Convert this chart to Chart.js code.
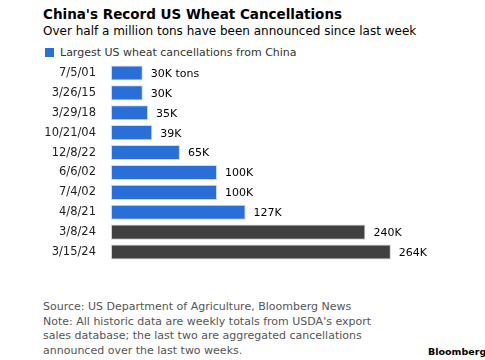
<!DOCTYPE html>
<html>
<head>
<meta charset="utf-8">
<script src="https://cdn.jsdelivr.net/npm/chart.js@4"></script>
<style>
  body { margin: 0; background: #fff; width: 485px; height: 360px; overflow: hidden; font-family: 'DejaVu Sans', Verdana, sans-serif; }
  .txt { position: absolute; white-space: nowrap; }
  #title { left: 43px; top: 6px; font-size: 13.5px; font-weight: bold; color: #000; }
  #sub { left: 43px; top: 24px; font-size: 12px; color: #000; }
  #leg { left: 45px; top: 46px; font-size: 11px; color: #333; }
  #leg span { display: inline-block; width: 9px; height: 9px; background: #2a6fd8; margin-right: 6px; vertical-align: -1px; }
  #notes { left: 43px; top: 300px; font-size: 11px; line-height: 14.7px; color: #555; }
  #brand { left: 428px; top: 346px; font-size: 9.5px; font-weight: bold; color: #000; }
  #c { position: absolute; left: 0; top: 63px; }
</style>
</head>
<body>
<div class="txt" id="title">China's Record US Wheat Cancellations</div>
<div class="txt" id="sub">Over half a million tons have been announced since last week</div>
<div class="txt" id="leg"><span></span>Largest US wheat cancellations from China</div>
<canvas id="c" width="485" height="199"></canvas>
<div class="txt" id="notes">Source: US Department of Agriculture, Bloomberg News<br>Note: All historic data are weekly totals from USDA's export<br>sales database; the last two are aggregated cancellations<br>announced over the last two weeks.</div>
<div class="txt" id="brand">Bloomberg</div>
<script>
// thousand tons
var dates = ["7/5/01", "3/26/15", "3/29/18", "10/21/04", "12/8/22", "6/6/02", "7/4/02", "4/8/21", "3/8/24", "3/15/24"];
var cancellations = [30, 30, 35, 39, 65, 100, 100, 127, 240, 264];
var valueLabels = ["30K tons", "30K", "35K", "39K", "65K", "100K", "100K", "127K", "240K", "264K"];
var recent = [false, false, false, false, false, false, false, false, true, true];

var blue = '#2a6fd8', dark = '#404040';

var barLabels = {
    id: 'barLabels',
    afterDatasetsDraw: function (chart) {
        var ctx = chart.ctx;
        var meta = chart.getDatasetMeta(0);
        ctx.save();
        ctx.font = '11px "DejaVu Sans"';
        ctx.fillStyle = '#000';
        ctx.textBaseline = 'middle';
        meta.data.forEach(function (bar, i) {
            ctx.fillText(valueLabels[i], bar.x + 8, bar.y + 1);
        });
        ctx.restore();
    }
};

new Chart(document.getElementById('c'), {
    type: 'bar',
    data: {
        labels: dates,
        datasets: [{
            data: cancellations,
            backgroundColor: recent.map(function (r) { return r ? dark : blue; }),
            borderColor: recent.map(function (r) { return r ? '#d0d0d0' : '#c9dbf5'; }),
            borderWidth: 1,
            borderSkipped: false,
            categoryPercentage: 1,
            barPercentage: 0.76
        }]
    },
    options: {
        indexAxis: 'y',
        responsive: false,
        animation: false,
        layout: { padding: 0, autoPadding: false },
        plugins: {
            legend: { display: false },
            tooltip: { enabled: false }
        },
        scales: {
            x: {
                display: false,
                min: 0,
                max: 300,
                afterFit: function (scale) { scale.paddingLeft = 0; scale.paddingRight = 56; }
            },
            y: {
                grid: { display: false },
                border: { display: false },
                afterFit: function (scale) {
                    scale.width = 111;
                    scale.paddingTop = 0;
                    scale.paddingBottom = 0;
                },
                ticks: {
                    padding: 7,
                    color: '#222',
                    font: { family: 'DejaVu Sans', size: 11.5 }
                }
            }
        }
    },
    plugins: [barLabels]
});
</script>
</body>
</html>
